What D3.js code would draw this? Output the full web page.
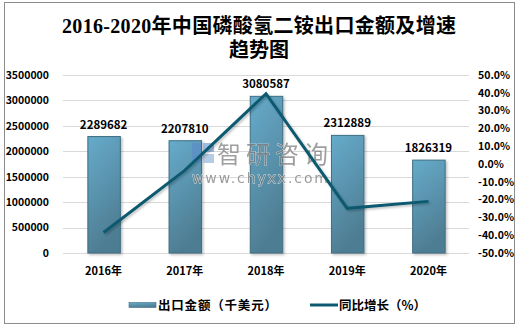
<!DOCTYPE html>
<html>
<head>
<meta charset="utf-8">
<script src="https://cdn.jsdelivr.net/npm/d3@7"></script>
<style>
  html, body { margin: 0; padding: 0; background: #fff; }
  svg { display: block; }
</style>
</head>
<body>
<svg id="chart" width="519" height="329"></svg>
<script>
// Export value (thousand USD) and year-on-year growth (%) of diammonium phosphate
const years = ["2016年", "2017年", "2018年", "2019年", "2020年"];
const exportValues = [2289682, 2207810, 3080587, 2312889, 1826319];
const growthRates = [-38.5, -3.6, 39.5, -24.9, -21.0];
const leftTicks = [0, 500000, 1000000, 1500000, 2000000, 2500000, 3000000, 3500000];
const rightTicks = [-50, -40, -30, -20, -10, 0, 10, 20, 30, 40, 50];

const svg = d3.select("#chart");
const plot = { left: 63, right: 469, top: 75, bottom: 253 };
const labelFont = "'Microsoft YaHei', 'Noto Sans CJK SC', 'DejaVu Sans', sans-serif";

// outer frame
svg.append("rect").attr("x", 4.5).attr("y", 2.5).attr("width", 510).attr("height", 321)
  .attr("fill", "#fff").attr("stroke", "#8c8c8c").attr("stroke-width", 1);

// title
const title = svg.append("text").attr("text-anchor", "middle")
  .attr("font-family", "'Liberation Serif', 'Noto Sans CJK SC', serif")
  .attr("font-size", 20).attr("font-weight", "bold").attr("fill", "#000");
title.append("tspan").attr("x", 259).attr("y", 33).attr("textLength", 394).text("2016-2020年中国磷酸氢二铵出口金额及增速");
title.append("tspan").attr("x", 259).attr("y", 57).text("趋势图");

const x = d3.scaleBand().domain(years).range([plot.left, plot.right]).paddingInner(0.6).paddingOuter(0.3);
const y = d3.scaleLinear().domain([0, 3500000]).range([plot.bottom, plot.top]);
const y2 = d3.scaleLinear().domain([-50, 50]).range([plot.bottom, plot.top]);

// gridlines
svg.append("g").selectAll("line").data(leftTicks).join("line")
  .attr("x1", plot.left).attr("x2", plot.right)
  .attr("y1", d => Math.round(y(d)) + 0.5).attr("y2", d => Math.round(y(d)) + 0.5)
  .attr("stroke", "#d9d9d9").attr("stroke-width", 1);

// left axis
const leftAxis = svg.append("g").attr("transform", `translate(${plot.left},0)`)
  .call(d3.axisLeft(y).tickValues(leftTicks).tickFormat(d3.format("d")).tickSize(0).tickPadding(14));
leftAxis.select(".domain").remove();
leftAxis.selectAll("text").attr("font-family", labelFont).attr("font-size", 10.5)
  .attr("font-weight", "bold").attr("fill", "#000");

// right axis
const rightAxis = svg.append("g").attr("transform", `translate(${plot.right},0)`)
  .call(d3.axisRight(y2).tickValues(rightTicks).tickFormat(d => d.toFixed(1) + "%").tickSize(0).tickPadding(9));
rightAxis.select(".domain").remove();
rightAxis.selectAll("text").attr("font-family", labelFont).attr("font-size", 10.5)
  .attr("font-weight", "bold").attr("fill", "#000");

// x axis labels
const xAxis = svg.append("g").attr("transform", `translate(0,${plot.bottom})`)
  .call(d3.axisBottom(x).tickSize(0).tickPadding(14));
xAxis.select(".domain").remove();
xAxis.selectAll("text").attr("font-family", labelFont).attr("font-size", 11)
  .attr("font-weight", "bold").attr("fill", "#000");

// bar gradient and shadow
const defs = svg.append("defs");
const grad = defs.append("linearGradient").attr("id", "barGrad")
  .attr("x1", "0").attr("y1", "0").attr("x2", "0.3").attr("y2", "1");
grad.append("stop").attr("offset", "0%").attr("stop-color", "#66abcb");
grad.append("stop").attr("offset", "100%").attr("stop-color", "#4e7d92");
const shadow = defs.append("filter").attr("id", "shadow").attr("x", "-20%").attr("y", "-20%").attr("width", "150%").attr("height", "150%");
shadow.append("feDropShadow").attr("dx", 1.5).attr("dy", 1.5).attr("stdDeviation", 1.2)
  .attr("flood-color", "#000").attr("flood-opacity", 0.25);

// bars
svg.append("g").selectAll("rect").data(exportValues).join("rect")
  .attr("x", (d, i) => x(years[i]) + 0.5)
  .attr("y", d => y(d))
  .attr("width", x.bandwidth())
  .attr("height", d => plot.bottom - y(d))
  .attr("fill", "url(#barGrad)").attr("stroke", "#3e6d82").attr("stroke-width", 1)
  .attr("filter", "url(#shadow)");

// bar value labels
svg.append("g").selectAll("text").data(exportValues).join("text")
  .attr("x", (d, i) => x(years[i]) + x.bandwidth() / 2)
  .attr("y", d => y(d) - 8)
  .attr("text-anchor", "middle")
  .attr("font-family", labelFont).attr("font-size", 11.5).attr("font-weight", "bold")
  .attr("fill", "#000").text(d => d);

// watermark
const wm = svg.append("g").attr("opacity", 0.75);
wm.append("rect").attr("x", 192).attr("y", 143).attr("width", 9).attr("height", 20).attr("fill", "#5b8fc7");
wm.append("rect").attr("x", 203).attr("y", 143).attr("width", 11).attr("height", 9).attr("fill", "#7fa8d6");
wm.append("rect").attr("x", 203).attr("y", 154).attr("width", 11).attr("height", 9).attr("fill", "#9dbbe0");
wm.append("text").attr("x", 217).attr("y", 163)
  .attr("font-family", "'Noto Sans CJK SC', sans-serif").attr("font-size", 24)
  .attr("fill", "#808080").attr("stroke", "#fff").attr("stroke-width", 0.6).attr("paint-order", "stroke")
  .attr("textLength", 111).text("智研咨询");
wm.append("text").attr("x", 192).attr("y", 183)
  .attr("font-family", "'DejaVu Sans', sans-serif").attr("font-size", 14)
  .attr("fill", "#7a7a7a").attr("stroke", "#fff").attr("stroke-width", 0.8).attr("paint-order", "stroke")
  .attr("textLength", 136).text("www.chyxx.com");

// growth line
const line = d3.line().x((d, i) => x(years[i]) + x.bandwidth() / 2).y(d => y2(d));
svg.append("path").datum(growthRates).attr("d", line)
  .attr("fill", "none").attr("stroke", "#0d5a70").attr("stroke-width", 3)
  .attr("stroke-linejoin", "miter").attr("filter", "url(#shadow)");

// legend
const lg = svg.append("g");
const ly = 305;
lg.append("rect").attr("x", 129).attr("y", ly - 2.5).attr("width", 27).attr("height", 5)
  .attr("fill", "url(#barGrad)").attr("stroke", "#3e6d82").attr("stroke-width", 0.6);
lg.append("text").attr("x", 158).attr("y", ly + 4.5).attr("textLength", 119)
  .attr("font-family", labelFont).attr("font-size", 12.5).attr("font-weight", "bold")
  .attr("fill", "#000").text("出口金额（千美元）");
lg.append("line").attr("x1", 310).attr("x2", 338).attr("y1", ly).attr("y2", ly)
  .attr("stroke", "#0d5a70").attr("stroke-width", 3);
lg.append("text").attr("x", 339).attr("y", ly + 4.5).attr("textLength", 87)
  .attr("font-family", labelFont).attr("font-size", 12.5).attr("font-weight", "bold")
  .attr("fill", "#000").text("同比增长（%）");
</script>
</body>
</html>
